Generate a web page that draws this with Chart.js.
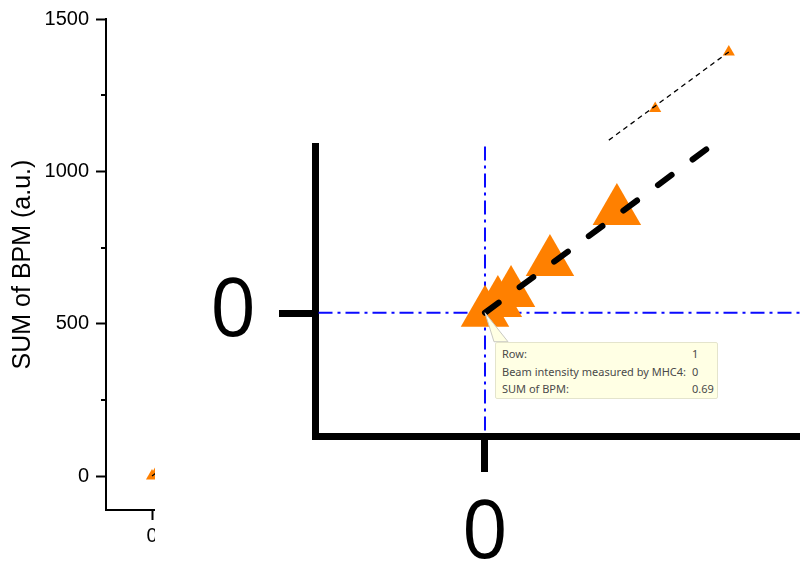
<!DOCTYPE html>
<html>
<head>
<meta charset="utf-8">
<script src="https://cdn.jsdelivr.net/npm/chart.js@4"></script>
<style>
html, body { margin: 0; padding: 0; background: #fff; }
#wrap { position: relative; width: 800px; height: 562px; overflow: hidden; }
#mainChart { position: absolute; left: 0; top: 0; }
#zoomChart { position: absolute; left: 155px; top: 142px; background: #fff; }
#tip { position: absolute; left: 495px; top: 342px; width: 221px; height: 55px; background: #ffffe4;
	border: 1px solid #e4e4cc; border-radius: 2px; font: 11px "Noto Sans", sans-serif; color: #4a4a4a; }
#tip span { position: absolute; white-space: nowrap; line-height: 14px; }
</style>
</head>
<body>
<div id="wrap">
	<canvas id="mainChart" width="800" height="562"></canvas>
	<canvas id="zoomChart" width="645" height="420"></canvas>
	<div id="tip"></div>
</div>
<script>
// data
const intensity = [0, 4.6, 9.3, 23.2, 47.1, 629, 721];
const bpmSum = [0.69, 9.8, 19.1, 48.1, 95.7, 1206, 1392];
const fitX = [0, 721];
const fitY = [0.69, 1392];
const mainYTicks = [0, 250, 500, 750, 1000, 1250, 1500];
const mainXTicks = [0];
const zoomTicks = [0];
const tipLabels = ['Row:', 'Beam intensity measured by MHC4:', 'SUM of BPM:'];
const tipValues = ['1', '0', '0.69'];

Chart.defaults.animation = false;
Chart.defaults.color = '#000';
Chart.defaults.font.family = '"Liberation Sans", Arial, sans-serif';

const points = intensity.map((v, i) => ({x: v, y: bpmSum[i]}));
const fitPoints = fitX.map((v, i) => ({x: v, y: fitY[i]}));
const orange = '#ff8000';

// short ticks at the minor values of the main y axis
const minorTicks = {
	id: 'minorTicks',
	afterDraw(chart) {
		const s = chart.scales.y;
		const ctx = chart.ctx;
		ctx.save();
		ctx.strokeStyle = '#000';
		ctx.lineWidth = 2;
		s.ticks.forEach(t => {
			if (t.value % 500 !== 0) {
				let y = Math.round(s.getPixelForValue(t.value));
				ctx.beginPath();
				ctx.moveTo(s.right - 5, y);
				ctx.lineTo(s.right, y);
				ctx.stroke();
			}
		});
		ctx.restore();
	}
};

let mainChart = new Chart(document.getElementById('mainChart'), {
	type: 'scatter',
	data: {
		datasets: [
			{
				data: points,
				pointStyle: 'triangle',
				pointRadius: 7,
				backgroundColor: orange,
				borderColor: orange,
				borderWidth: 0,
				order: 1
			},
			{
				type: 'line',
				data: fitPoints,
				borderColor: '#000',
				borderWidth: 1.3,
				borderDash: [5, 4],
				pointRadius: 0,
				fill: false,
				order: 0
			}
		]
	},
	options: {
		responsive: false,
		events: [],
		layout: {autoPadding: false, padding: {top: 17, right: 10, left: 0, bottom: 0}},
		plugins: {legend: {display: false}, tooltip: {enabled: false}},
		scales: {
			x: {
				min: -57.5,
				max: 797.5,
				afterBuildTicks: s => { s.ticks = mainXTicks.map(v => ({value: v})); },
				afterFit: s => { s.height = 52; },
				grid: {drawOnChartArea: false, tickLength: 10, tickWidth: 2, tickColor: '#000'},
				border: {color: '#000', width: 2},
				ticks: {font: {size: 20}, padding: 4, maxRotation: 0}
			},
			y: {
				min: -111,
				max: 1500,
				afterBuildTicks: s => { s.ticks = mainYTicks.map(v => ({value: v})); },
				afterFit: s => { s.width = 106; },
				grid: {
					drawOnChartArea: false, tickLength: 10, tickWidth: 2,
					tickColor: c => (c.tick && c.tick.value % 500 === 0) ? '#000' : 'rgba(0,0,0,0)'
				},
				border: {color: '#000', width: 2},
				ticks: {font: {size: 20}, padding: 7, autoSkip: false, callback: v => v % 500 === 0 ? v : ''},
				title: {display: true, text: 'SUM of BPM (a.u.)', font: {size: 25}, padding: {top: 8, bottom: 0}}
			}
		}
	},
	plugins: [minorTicks]
});

// blue dash-dot cross at the picked point, under the markers
const crosshair = {
	id: 'crosshair',
	beforeDatasetsDraw(chart) {
		const {ctx, chartArea: a, scales: {x, y}} = chart;
		let px = x.getPixelForValue(intensity[0]);
		let py = y.getPixelForValue(bpmSum[0]);
		ctx.save();
		ctx.strokeStyle = '#0a0aff';
		ctx.lineWidth = 2;
		ctx.setLineDash([14, 5, 3, 5]);
		ctx.beginPath();
		ctx.moveTo(px, a.top);
		ctx.lineTo(px, a.bottom - 3.5);
		ctx.moveTo(a.left + 3.5, py);
		ctx.lineTo(a.right, py);
		ctx.stroke();
		ctx.restore();
	}
};

// little callout wedge from the point to the tooltip box
const wedge = {
	id: 'wedge',
	afterDraw(chart) {
		const {ctx, scales: {x, y}} = chart;
		let px = x.getPixelForValue(intensity[0]);
		let py = y.getPixelForValue(bpmSum[0]);
		ctx.save();
		ctx.beginPath();
		ctx.moveTo(px, py);
		ctx.lineTo(px + 9, py + 29);
		ctx.lineTo(px + 23, py + 29);
		ctx.closePath();
		ctx.fillStyle = '#ffffe4';
		ctx.fill();
		ctx.strokeStyle = '#c8c8c0';
		ctx.lineWidth = 1;
		ctx.stroke();
		ctx.restore();
	}
};

let zoomChart = new Chart(document.getElementById('zoomChart'), {
	type: 'scatter',
	data: {
		datasets: [
			{
				data: points,
				pointStyle: 'triangle',
				pointRadius: 28,
				backgroundColor: orange,
				borderColor: orange,
				borderWidth: 0,
				order: 1
			},
			{
				type: 'line',
				data: fitPoints,
				borderColor: '#000',
				borderWidth: 6,
				borderDash: [17, 26],
				borderCapStyle: 'round',
				pointRadius: 0,
				fill: false,
				clip: {left: 0, top: 4, right: 0, bottom: 0},
				order: 0
			}
		]
	},
	options: {
		responsive: false,
		events: [],
		layout: {autoPadding: false, padding: {top: 4.5, right: 0, left: 0, bottom: 0}},
		plugins: {legend: {display: false}, tooltip: {enabled: false}},
		scales: {
			x: {
				min: -60.71,
				max: 112.5,
				afterBuildTicks: s => { s.ticks = zoomTicks.map(v => ({value: v})); },
				afterFit: s => { s.height = 126; s.paddingLeft = 0; s.paddingRight = 0; },
				grid: {drawOnChartArea: false, tickLength: 36, tickWidth: 7, tickColor: '#000'},
				border: {color: '#000', width: 7},
				ticks: {font: {family: '"Open Sans", sans-serif', size: 80}, padding: 15, maxRotation: 0}
			},
			y: {
				min: -114.4,
				max: 155.9,
				afterBuildTicks: s => { s.ticks = zoomTicks.map(v => ({value: v})); },
				afterFit: s => { s.width = 160; s.paddingTop = 0; s.paddingBottom = 0; },
				grid: {drawOnChartArea: false, tickLength: 36, tickWidth: 7, tickColor: '#000'},
				border: {color: '#000', width: 7},
				ticks: {font: {family: '"Open Sans", sans-serif', size: 80}, padding: 23}
			}
		}
	},
	plugins: [crosshair, wedge]
});

// tooltip text
let tip = document.getElementById('tip');
for (let i = 0; i < tipLabels.length; i++) {
	let lab = document.createElement('span');
	lab.textContent = tipLabels[i];
	lab.style.left = '6px';
	lab.style.top = (4 + i * 17.5) + 'px';
	tip.appendChild(lab);
	let val = document.createElement('span');
	val.textContent = tipValues[i];
	val.style.left = '196px';
	val.style.top = (4 + i * 17.5) + 'px';
	tip.appendChild(val);
}
</script>
</body>
</html>
